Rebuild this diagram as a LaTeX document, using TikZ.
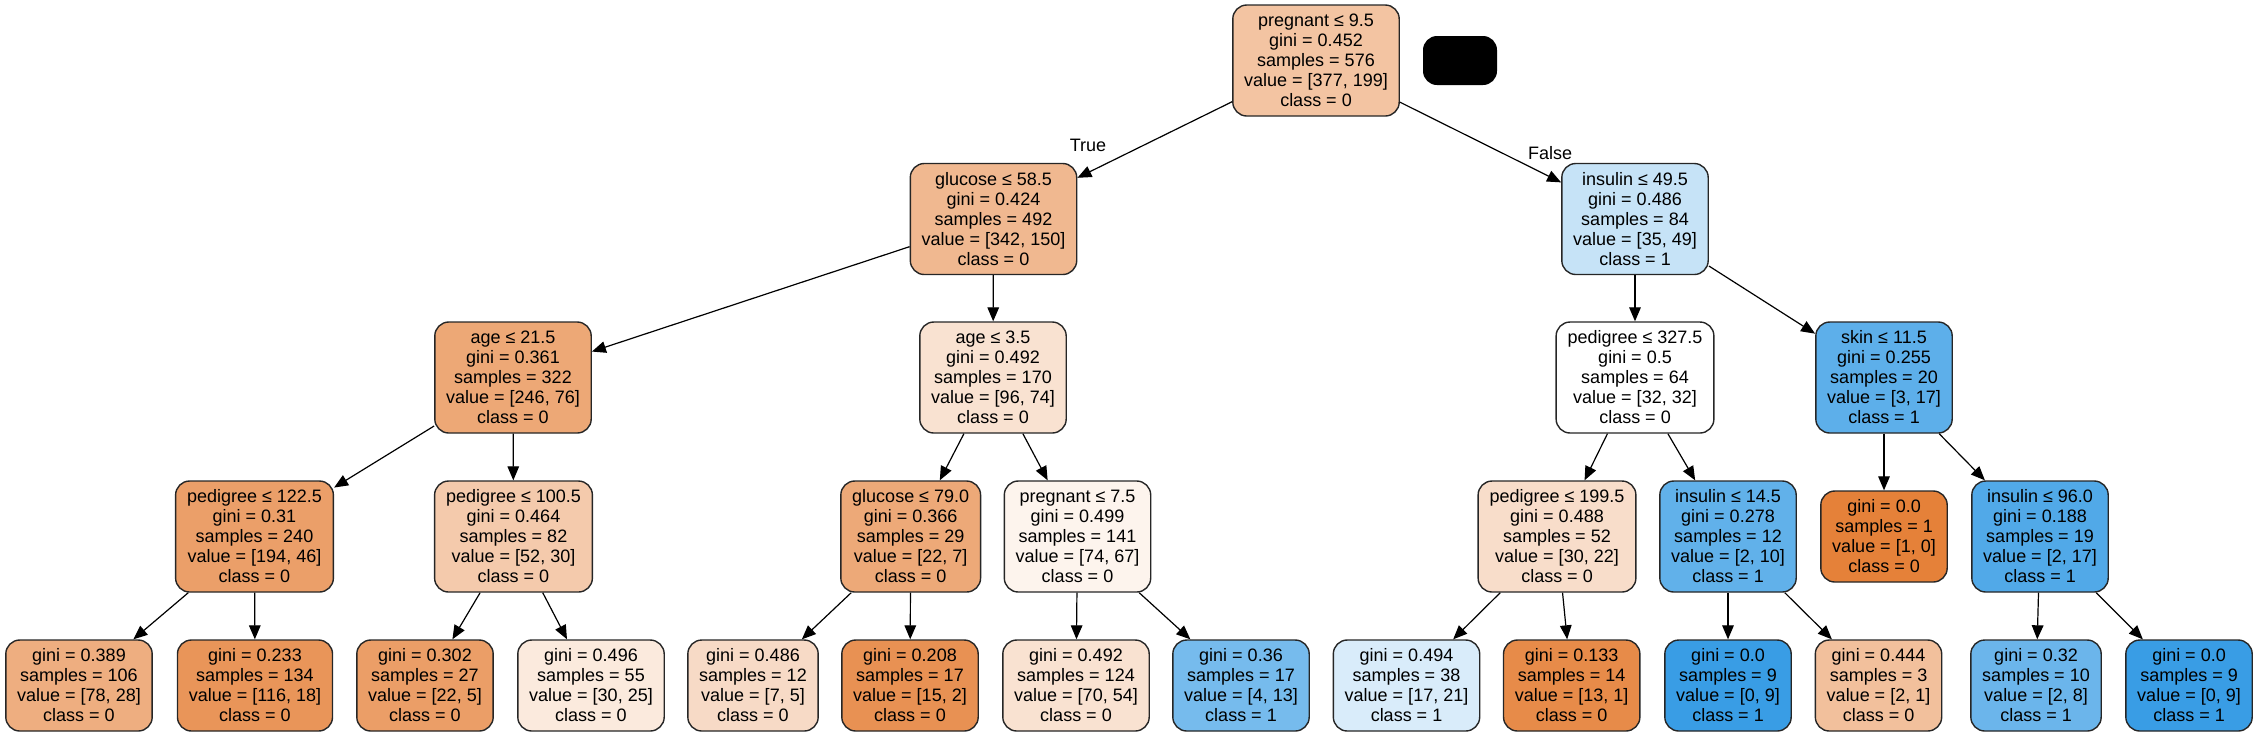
\documentclass[tikz,border=0pt]{standalone}
\usepackage{fontspec}
\setmainfont{Liberation Sans}
\usepackage{tikz}
\usetikzlibrary{arrows.meta, positioning}
\usepackage{xcolor}
\definecolor{clsorange}{RGB}{229,129,57}
\definecolor{clsblue}{RGB}{57,157,229}

\begin{document}
\begin{tikzpicture}[
    x=0.5pt, y=-0.5pt,
    decision/.style = {rectangle, draw=black!85, line width=0.7pt, rounded corners=7pt, align=center, font=\fontsize{9}{10}\selectfont, inner xsep=5.7pt, inner ysep=2pt, minimum height=55.5pt},
    leaf/.style = {decision, minimum height=45.5pt},
    link/.style = {draw=black, line width=0.6pt, -{Triangle[length=7pt, width=5.8pt]}},
    edgelabel/.style = {font=\fontsize{9}{10}\selectfont, inner sep=0pt}
]
\useasboundingbox (0, 0) rectangle (2258, 736);

% Decision nodes
\node (root) [decision, fill=clsorange!47] at (1316, 60.5) {pregnant ≤ 9.5\\gini = 0.452\\samples = 576\\value = [377, 199]\\class = 0};
\node (blk) [rectangle, fill=black, rounded corners=7pt, minimum width=37pt, minimum height=24.5pt] at (1460, 60.5) {};
\node (glu) [decision, fill=clsorange!56] at (993.5, 219) {glucose ≤ 58.5\\gini = 0.424\\samples = 492\\value = [342, 150]\\class = 0};
\node (ins) [decision, fill=clsblue!29] at (1635, 219) {insulin ≤ 49.5\\gini = 0.486\\samples = 84\\value = [35, 49]\\class = 1};
\node (ageA) [decision, fill=clsorange!69] at (513, 377.5) {age ≤ 21.5\\gini = 0.361\\samples = 322\\value = [246, 76]\\class = 0};
\node (ageB) [decision, fill=clsorange!23] at (993, 377.5) {age ≤ 3.5\\gini = 0.492\\samples = 170\\value = [96, 74]\\class = 0};
\node (pedC) [decision, fill=white] at (1635, 377.5) {pedigree ≤ 327.5\\gini = 0.5\\samples = 64\\value = [32, 32]\\class = 0};
\node (skin) [decision, fill=clsblue!82] at (1884, 377.5) {skin ≤ 11.5\\gini = 0.255\\samples = 20\\value = [3, 17]\\class = 1};
\node (pedA) [decision, fill=clsorange!76] at (254.5, 536.5) {pedigree ≤ 122.5\\gini = 0.31\\samples = 240\\value = [194, 46]\\class = 0};
\node (pedB) [decision, fill=clsorange!42] at (513.5, 536.5) {pedigree ≤ 100.5\\gini = 0.464\\samples = 82\\value = [52, 30]\\class = 0};
\node (gluB) [decision, fill=clsorange!68] at (910.7, 536.5) {glucose ≤ 79.0\\gini = 0.366\\samples = 29\\value = [22, 7]\\class = 0};
\node (preg) [decision, fill=clsorange!9] at (1077.5, 536.5) {pregnant ≤ 7.5\\gini = 0.499\\samples = 141\\value = [74, 67]\\class = 0};
\node (pedD) [decision, fill=clsorange!27] at (1557, 536.5) {pedigree ≤ 199.5\\gini = 0.488\\samples = 52\\value = [30, 22]\\class = 0};
\node (insB) [decision, fill=clsblue!80] at (1728, 536.5) {insulin ≤ 14.5\\gini = 0.278\\samples = 12\\value = [2, 10]\\class = 1};
\node (insC) [decision, fill=clsblue!88] at (2040, 536.5) {insulin ≤ 96.0\\gini = 0.188\\samples = 19\\value = [2, 17]\\class = 1};

% Leaves
\node (lf0) [leaf, fill=clsorange] at (1884, 536.5) {gini = 0.0\\samples = 1\\value = [1, 0]\\class = 0};
\node (lf1) [leaf, fill=clsorange!64] at (79, 685.5) {gini = 0.389\\samples = 106\\value = [78, 28]\\class = 0};
\node (lf2) [leaf, fill=clsorange!84] at (255, 685.5) {gini = 0.233\\samples = 134\\value = [116, 18]\\class = 0};
\node (lf3) [leaf, fill=clsorange!77] at (425, 685.5) {gini = 0.302\\samples = 27\\value = [22, 5]\\class = 0};
\node (lf4) [leaf, fill=clsorange!17] at (591, 685.5) {gini = 0.496\\samples = 55\\value = [30, 25]\\class = 0};
\node (lf5) [leaf, fill=clsorange!29] at (753, 685.5) {gini = 0.486\\samples = 12\\value = [7, 5]\\class = 0};
\node (lf6) [leaf, fill=clsorange!87] at (910, 685.5) {gini = 0.208\\samples = 17\\value = [15, 2]\\class = 0};
\node (lf7) [leaf, fill=clsorange!23] at (1076, 685.5) {gini = 0.492\\samples = 124\\value = [70, 54]\\class = 0};
\node (lf8) [leaf, fill=clsblue!69] at (1241, 685.5) {gini = 0.36\\samples = 17\\value = [4, 13]\\class = 1};
\node (lf9) [leaf, fill=clsblue!19] at (1406.5, 685.5) {gini = 0.494\\samples = 38\\value = [17, 21]\\class = 1};
\node (lf10) [leaf, fill=clsorange!92] at (1571.7, 685.5) {gini = 0.133\\samples = 14\\value = [13, 1]\\class = 0};
\node (lf11) [leaf, fill=clsblue] at (1728, 685.5) {gini = 0.0\\samples = 9\\value = [0, 9]\\class = 1};
\node (lf12) [leaf, fill=clsorange!50] at (1878.5, 685.5) {gini = 0.444\\samples = 3\\value = [2, 1]\\class = 0};
\node (lf13) [leaf, fill=clsblue!75] at (2036, 685.5) {gini = 0.32\\samples = 10\\value = [2, 8]\\class = 1};
\node (lf14) [leaf, fill=clsblue] at (2189, 685.5) {gini = 0.0\\samples = 9\\value = [0, 9]\\class = 1};

% Edge labels
\node (lblT) [edgelabel] at (1088, 145) {True};
\node (lblF) [edgelabel] at (1550, 153) {False};

% Edges
\draw [link] (root) -- (glu);
\draw [link] (root) -- (ins);
\draw [link] (glu) -- (ageA);
\draw [link] (glu) -- (ageB);
\draw [link] (ins) -- (pedC);
\draw [link] (ins) -- (skin);
\draw [link] (ageA) -- (pedA);
\draw [link] (ageA) -- (pedB);
\draw [link] (ageB) -- (gluB);
\draw [link] (ageB) -- (preg);
\draw [link] (pedC) -- (pedD);
\draw [link] (pedC) -- (insB);
\draw [link] (skin) -- (lf0);
\draw [link] (skin) -- (insC);
\draw [link] (pedA) -- (lf1);
\draw [link] (pedA) -- (lf2);
\draw [link] (pedB) -- (lf3);
\draw [link] (pedB) -- (lf4);
\draw [link] (gluB) -- (lf5);
\draw [link] (gluB) -- (lf6);
\draw [link] (preg) -- (lf7);
\draw [link] (preg) -- (lf8);
\draw [link] (pedD) -- (lf9);
\draw [link] (pedD) -- (lf10);
\draw [link] (insB) -- (lf11);
\draw [link] (insB) -- (lf12);
\draw [link] (insC) -- (lf13);
\draw [link] (insC) -- (lf14);

\end{tikzpicture}
\end{document}
